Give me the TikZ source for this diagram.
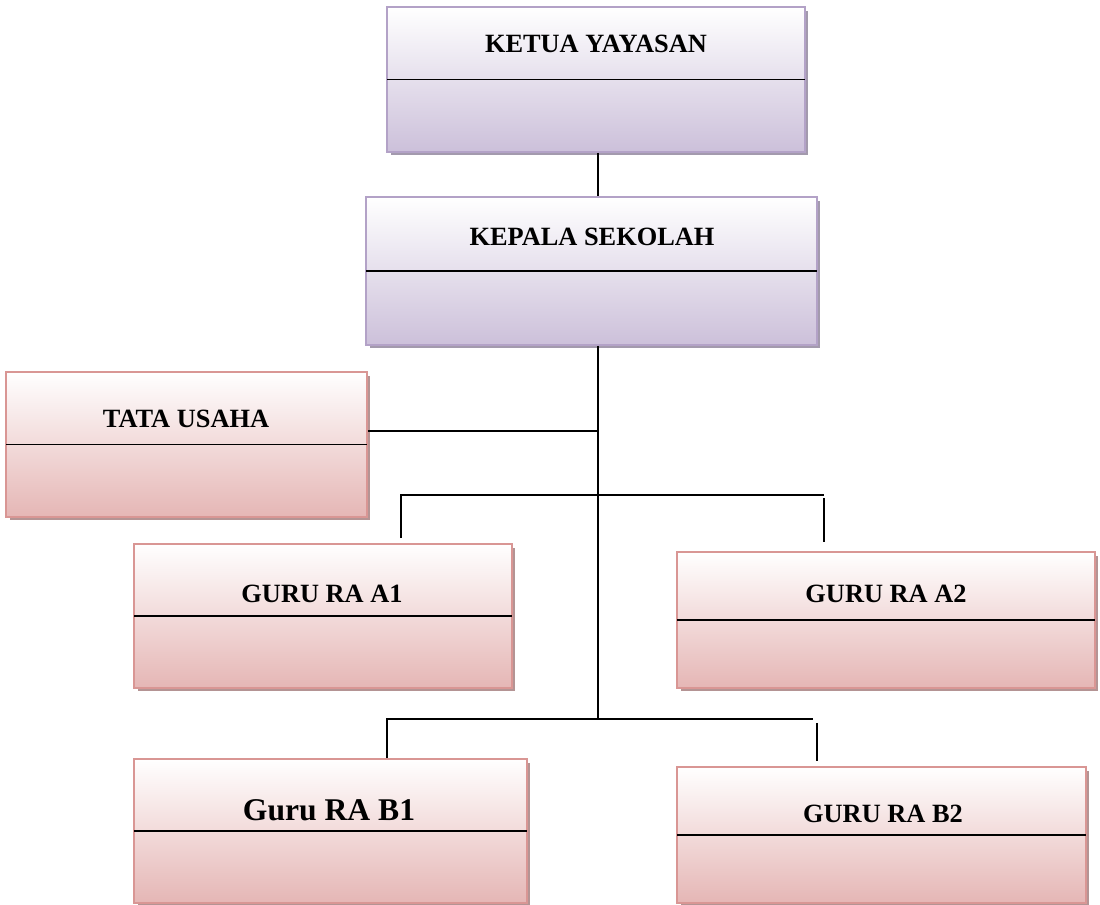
\documentclass[tikz,border=0pt]{standalone}
\usepackage{fontspec}
\setmainfont{Liberation Serif}
\usepackage{xcolor}
\usepackage{tikz}
\usetikzlibrary{positioning,shadows}
\definecolor{lavline}{RGB}{179,162,199}
\definecolor{lavfill}{RGB}{204,192,218}
\definecolor{lavshade}{RGB}{163,154,173}
\definecolor{roseline}{RGB}{217,150,148}
\definecolor{rosefill}{RGB}{229,182,181}
\definecolor{roseshade}{RGB}{180,148,148}
\tikzset{
  box/.style     ={rectangle, line width=1.1pt, inner sep=0pt},
  lavbox/.style  ={box, draw=lavline, top color=white, bottom color=lavfill,
                   drop shadow={shadow xshift=0.07cm, shadow yshift=-0.07cm, fill=lavshade, opacity=1}},
  rosebox/.style ={box, draw=roseline, top color=white, bottom color=rosefill,
                   drop shadow={shadow xshift=0.07cm, shadow yshift=-0.07cm, fill=roseshade, opacity=1}},
  title/.style   ={anchor=base, inner sep=0pt, font=\fontsize{15}{18}\selectfont\bfseries},
  bigtitle/.style={title, font=\fontsize{18}{21}\selectfont\bfseries},
  divider/.style ={line width=1.1pt, shorten <=0.6pt, shorten >=0.6pt},
  link/.style    ={line width=1.1pt}
}

\begin{document}
\begin{tikzpicture}[x=0.02cm, y=-0.02cm]
    \useasboundingbox (0,0) rectangle (1100,905);
    % boxes
    \node[lavbox, minimum width=8.36cm, minimum height=2.9cm] (ketua) at (596,79.5) {};
    \node[lavbox, minimum width=9.02cm, minimum height=2.96cm] (kepala) at (591.5,271) {};
    \node[rosebox, minimum width=7.22cm, minimum height=2.9cm] (tata) at (186.5,444.5) {};
    \node[rosebox, minimum width=7.56cm, minimum height=2.88cm] (a1) at (323,616) {};
    \node[rosebox, minimum width=8.36cm, minimum height=2.72cm] (a2) at (886,620) {};
    \node[rosebox, minimum width=7.86cm, minimum height=2.88cm] (b1) at (330.5,831) {};
    \node[rosebox, minimum width=8.18cm, minimum height=2.72cm] (b2) at (881.5,835) {};
    % dividers
    \foreach \n in {ketua,kepala,tata,a1,a2,b1,b2}
      \draw[divider] (\n.west) -- (\n.east);
    % titles
    \node[title] (ketua-t) at (596,53) {KETUA YAYASAN};
    \node[title] (kepala-t) at (592,246) {KEPALA SEKOLAH};
    \node[title] (tata-t) at (186,428) {TATA USAHA};
    \node[title] (a1-t) at (322,603) {GURU RA A1};
    \node[title] (a2-t) at (886,603) {GURU RA A2};
    \node[bigtitle] (b1-t) at (329,821) {Guru RA B1};
    \node[title] (b2-t) at (883,823) {GURU RA B2};
    % junctions
    \coordinate (spine) at (598,719);
    \coordinate (tjunc) at (598,431);
    \coordinate (aleft) at (401,495);
    \coordinate (aright) at (824,495);
    \coordinate (bleft) at (387,719);
    \coordinate (bright) at (813,719);
    \coordinate (bdrop) at (817,723);
    % connectors
    \draw[link] (ketua.south -| spine) -- (kepala.north -| spine);
    \draw[link] (kepala.south -| spine) -- (spine);
    \draw[link] (tata.east |- tjunc) -- (tjunc);
    \draw[link] (a1.north -| aleft) [shorten <=0.1cm] -- (aleft) -- (aright);
    \draw[link, shorten <=0.06cm, shorten >=0.18cm] (aright) -- (a2.north -| aright);
    \draw[link] (b1.north -| bleft) -- (bleft) -- (bright);
    \draw[link, shorten >=0.1cm] (bdrop) -- (b2.north -| bdrop);
  \end{tikzpicture}
\end{document}
